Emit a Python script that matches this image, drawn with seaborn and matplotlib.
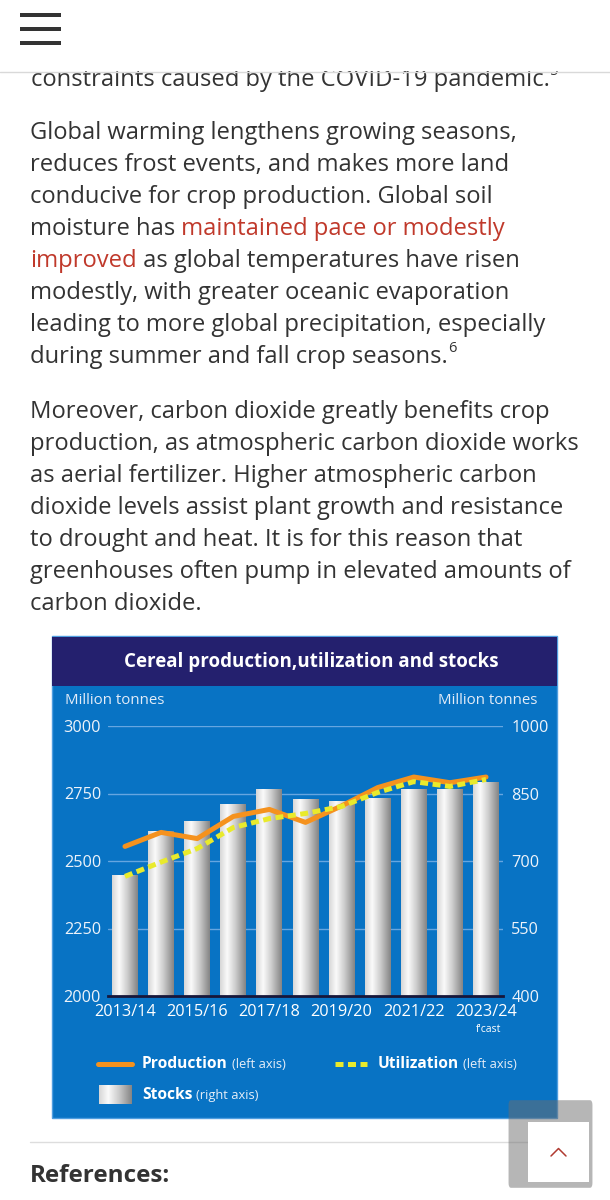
import matplotlib
matplotlib.use("Agg")
import matplotlib.pyplot as plt
from matplotlib.patches import Rectangle, FancyBboxPatch
from matplotlib.lines import Line2D
import numpy as np
import seaborn as sns

# chart data
seasons = ["2013/14", "2014/15", "2015/16", "2016/17", "2017/18", "2018/19",
           "2019/20", "2020/21", "2021/22", "2022/23", "2023/24"]
production = [2554, 2606, 2583, 2665, 2691, 2643, 2704, 2772, 2811, 2790, 2811]
utilization = [2443, 2496, 2546, 2624, 2657, 2676, 2702, 2754, 2794, 2776, 2802]
stocks = [669, 767, 789, 827, 859, 837, 833, 841, 859, 861, 876]
left_ticks = [2000, 2250, 2500, 2750, 3000]
right_ticks = [400, 550, 700, 850, 1000]

# page text
para0 = [("constraints caused by the COVID-19 pandemic.", "txt"), ("5", "sup")]
para1 = [
    [("Global warming lengthens growing seasons,", "txt")],
    [("reduces frost events, and makes more land", "txt")],
    [("conducive for crop production. Global soil", "txt")],
    [("moisture has", "txt"), (" maintained pace or modestly", "link")],
    [("improved", "link"), (" as global temperatures have risen", "txt")],
    [("modestly, with greater oceanic evaporation", "txt")],
    [("leading to more global precipitation, especially", "txt")],
    [("during summer and fall crop seasons.", "txt"), ("6", "sup")],
]
para2 = [
    "Moreover, carbon dioxide greatly benefits crop",
    "production, as atmospheric carbon dioxide works",
    "as aerial fertilizer. Higher atmospheric carbon",
    "dioxide levels assist plant growth and resistance",
    "to drought and heat. It is for this reason that",
    "greenhouses often pump in elevated amounts of",
    "carbon dioxide.",
]

sns.set_theme(style="white")
plt.rcParams["font.family"] = ["Open Sans", "DejaVu Sans"]

W, H = 610, 1200
fig = plt.figure(figsize=(W / 100, H / 100), dpi=100)
fig.patch.set_facecolor("white")
renderer = fig.canvas.get_renderer()


def fx(x):
    return x / W


def fy(y):
    return 1 - y / H


TXT = "#333333"
LINK = "#c0392b"
BODY = 17.1
LINE = 32


def draw_runs(runs, x, base, z=1):
    for s, kind in runs:
        if kind == "sup":
            t = fig.text(fx(x), fy(base - 11), s, color=TXT, fontsize=10.5,
                         va="baseline", zorder=z)
        else:
            t = fig.text(fx(x), fy(base), s, color=LINK if kind == "link" else TXT,
                         fontsize=BODY, va="baseline", zorder=z)
        x = t.get_window_extent(renderer).x1


draw_runs(para0, 31, 86)
for i, runs in enumerate(para1):
    draw_runs(runs, 30, 139 + i * LINE)
for i, line in enumerate(para2):
    draw_runs([(line, "txt")], 30, 418 + i * LINE)

# header bar covering the scrolled text
fig.patches.append(Rectangle((0, fy(71)), 1, 71 / H, transform=fig.transFigure,
                             facecolor="white", edgecolor="none", zorder=5))
fig.lines.append(Line2D([0, 1], [fy(71.5), fy(71.5)], transform=fig.transFigure,
                        color="#d9d9d9", lw=1, zorder=6))
for yy in (15, 29, 43):
    fig.patches.append(Rectangle((fx(20), fy(yy + 2.3)), fx(41), 4.6 / H,
                                 transform=fig.transFigure, facecolor="#333333",
                                 edgecolor="none", zorder=6))

# chart panel
BLUE = "#0873c4"
NAVY = "#24206e"
fig.patches.append(Rectangle((fx(52), fy(1118)), fx(505), 482 / H, transform=fig.transFigure,
                             facecolor=BLUE, edgecolor="#4f9ee0", lw=1, zorder=1))
fig.patches.append(Rectangle((fx(52), fy(686)), fx(505), 49 / H, transform=fig.transFigure,
                             facecolor=NAVY, edgecolor="none", zorder=1))
fig.text(fx(311), fy(662), "Cereal production,utilization and stocks", color="white",
         fontsize=13.5, fontweight="bold", ha="center", va="center", zorder=2)
fig.text(fx(65), fy(700), "Million tonnes", color="#e3ecf8", fontsize=10.8,
         va="center", zorder=2)
fig.text(fx(537), fy(700), "Million tonnes", color="#e3ecf8", fontsize=10.8,
         va="center", ha="right", zorder=2)

ax = fig.add_axes([fx(108), fy(996), fx(395), 270 / H])
ax.set_zorder(3)
ax.patch.set_visible(False)
sns.barplot(x=seasons, y=stocks, ax=ax, width=0.72, color="#cccccc",
            edgecolor="none", zorder=2)

# cylinder-like shading: light on the left, grey on the right
grad = np.interp(np.linspace(0, 1, 80), [0, 0.28, 0.6, 1], [0.84, 0.98, 0.8, 0.52])
for p in ax.patches:
    x0, w, h = p.get_x(), p.get_width(), p.get_height()
    im = ax.imshow(grad[None, :], extent=[x0, x0 + w, 400, h], aspect="auto",
                   cmap="gray", vmin=0, vmax=1, zorder=2)
    im.set_clip_path(p)
    p.set_facecolor("none")

ax.set_ylim(400, 1000)
ax.set_xlim(-0.47, 10.47)
ax.yaxis.grid(True, color="#66a6e0", lw=1)
ax.set_axisbelow(True)
ax.set_xticks(range(0, len(seasons), 2))
ax.set_xticklabels(seasons[::2])
ax.set_xlabel("")
ax.set_ylabel("")
for side in ("top", "left", "right"):
    ax.spines[side].set_visible(False)
ax.spines["bottom"].set_color("#16163a")
ax.spines["bottom"].set_linewidth(2)

ax2 = ax.twinx()
ORANGE = "#f5921e"
YELLOW = "#e9ea2c"
sns.lineplot(x=np.arange(len(seasons)), y=production, ax=ax2, color=ORANGE, lw=3.6)
sns.lineplot(x=np.arange(len(seasons)), y=utilization, ax=ax2, color=YELLOW, lw=3.6)
ax2.lines[-1].set_dashes([1.6, 0.9])
ax2.set_ylim(2000, 3000)
ax2.set_yticks(left_ticks)
ax2.yaxis.tick_left()
ax2.tick_params(axis="y", colors="#eef3fa", labelsize=11.7, length=0, pad=5)
ax2.set_ylabel("")
ax2.grid(False)
for s in ax2.spines.values():
    s.set_visible(False)

# right axis ticks for stocks (after twinx, which moves them)
ax.set_yticks(right_ticks)
ax.yaxis.tick_right()
ax.yaxis.set_label_position("right")
ax.tick_params(axis="x", colors="white", labelsize=11.7, length=0, pad=6)
ax.tick_params(axis="y", colors="#eef3fa", labelsize=11.7, length=0, pad=6,
               left=False, labelleft=False, right=False, labelright=True)
ax.set_xlim(-0.47, 10.47)

fig.text(fx(489), fy(1030), "f'cast", color="white", fontsize=7.5, ha="center",
         va="center", zorder=4)

# legend
fig.lines.append(Line2D([fx(98), fx(132)], [fy(1064), fy(1064)], transform=fig.transFigure,
                        color=ORANGE, lw=3.6, zorder=4))
fig.lines.append(Line2D([fx(335), fx(367)], [fy(1064), fy(1064)], transform=fig.transFigure,
                        color=YELLOW, lw=3.6, dashes=[1.6, 0.9], zorder=4))
sw = fig.add_axes([fx(99), fy(1104), fx(33), 19 / H])
sw.set_zorder(5)
sw.imshow(grad[None, :], aspect="auto", cmap="gray", vmin=0, vmax=1)
sw.axis("off")


def legend_label(x, base, bold, small):
    t = fig.text(fx(x), fy(base), bold, color="white", fontsize=11.2, fontweight="bold",
                 va="baseline", zorder=4)
    x1 = t.get_window_extent(renderer).x1
    fig.text(fx(x1 + 4), fy(base), small, color="#e6eef8", fontsize=9.3, va="baseline",
             zorder=4)


legend_label(142, 1068, "Production", "(left axis)")
legend_label(378, 1068, "Utilization", "(left axis)")
legend_label(142, 1099, "Stocks", "(right axis)")

# separator, references heading, scroll button
fig.lines.append(Line2D([fx(30), fx(585)], [fy(1142), fy(1142)], transform=fig.transFigure,
                        color="#dddddd", lw=1, zorder=1))
fig.text(fx(30), fy(1182), "References:", color=TXT, fontsize=17.5, fontweight="bold",
         va="baseline")
fig.patches.append(FancyBboxPatch((fx(511), fy(1183)), fx(79), 78 / H,
                                  boxstyle="round,pad=0.004", transform=fig.transFigure,
                                  facecolor="#6e6e6e", alpha=0.5, edgecolor="none", zorder=7))
fig.patches.append(Rectangle((fx(528), fy(1182)), fx(61), 60 / H, transform=fig.transFigure,
                             facecolor="white", edgecolor="none", zorder=8))
fig.lines.append(Line2D([fx(551), fx(558.5), fx(566)], [fy(1156), fy(1148.5), fy(1156)],
                        transform=fig.transFigure, color="#b03a30", lw=1.1, zorder=9))

fig.savefig("out.png", dpi=100, facecolor="white")
